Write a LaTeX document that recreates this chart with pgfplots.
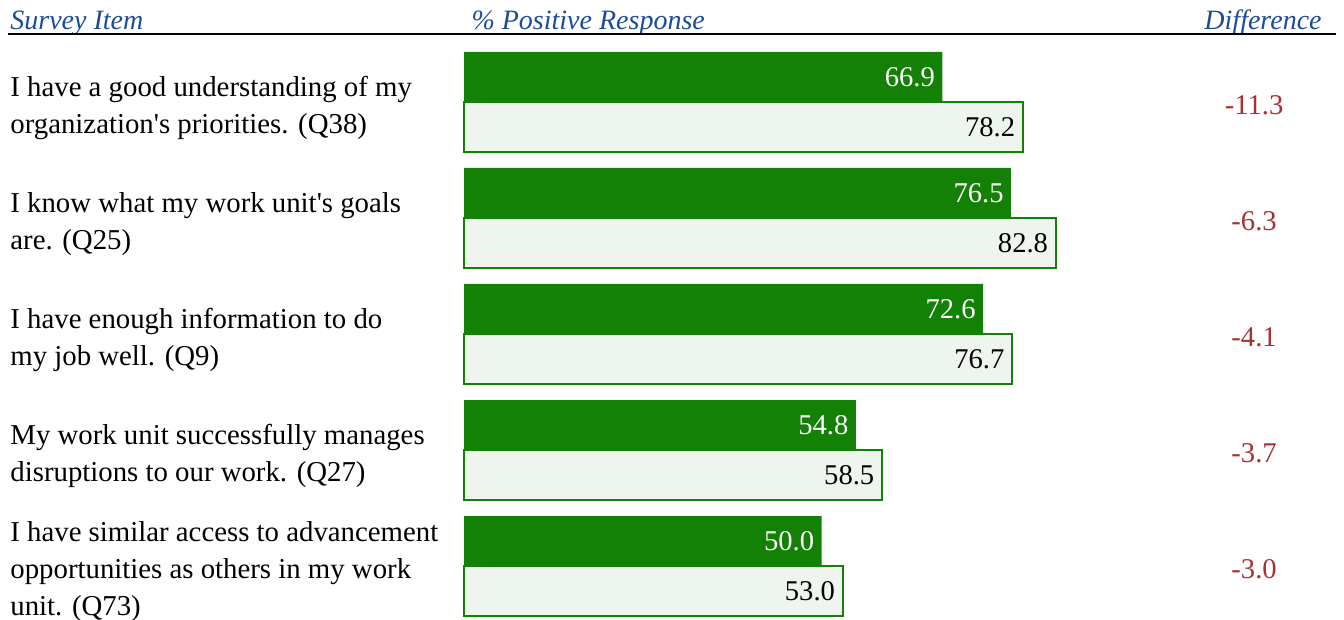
\documentclass[border=0pt]{standalone}
\usepackage{pgfplots}
\pgfplotsset{compat=1.18}
\usepackage{fontspec}
\setmainfont{Liberation Serif}
\definecolor{dkgreen}{RGB}{19,128,6}
\definecolor{ltfill}{RGB}{238,245,238}
\definecolor{hdrblue}{RGB}{28,76,152}
\definecolor{diffred}{RGB}{168,48,48}
\newcommand{\q}{\textquotesingle}
\begin{document}
\fontsize{14}{17.5}\selectfont
\begin{tikzpicture}
\begin{axis}[
  name=ax,
  scale only axis,
  width=672pt, height=310pt,
  xmin=-64.9, xmax=123.08,
  ymin=0, ymax=620,
  y dir=reverse,
  hide axis,
  clip=false,
  /pgf/number format/assume math mode=true,
]
% dark bars (current)
\addplot[xbar, bar shift=0pt, bar width=50, fill=dkgreen, draw=none,
  point meta=x,
  nodes near coords={\pgfmathprintnumber[fixed,fixed zerofill,precision=1]{\pgfplotspointmeta}},
  every node near coord/.append style={anchor=east, inner sep=0pt, xshift=-3.5pt, text=white, font=\fontsize{14.3}{17}\selectfont}]
  coordinates {(66.9,77) (76.5,193) (72.6,309) (54.8,425) (50.0,541)};
% light bars (comparison)
\addplot[xbar, bar shift=0pt, bar width=50, fill=ltfill, draw=dkgreen, line width=1pt,
  point meta=x,
  nodes near coords={\pgfmathprintnumber[fixed,fixed zerofill,precision=1]{\pgfplotspointmeta}},
  every node near coord/.append style={anchor=east, inner sep=0pt, xshift=-3.5pt, text=black, font=\fontsize{14.3}{17}\selectfont}]
  coordinates {(78.2,127) (82.8,243) (76.7,359) (58.5,475) (53.0,591)};
% differences
\addplot[draw=none, mark=none, point meta=explicit symbolic,
  nodes near coords={\pgfplotspointmeta},
  every node near coord/.append style={anchor=center, inner sep=0pt, text=diffred, font=\fontsize{14.3}{17}\selectfont}]
  coordinates {(110.5,105) [-11.3] (110.5,221) [-6.3] (110.5,337) [-4.1] (110.5,453) [-3.7] (110.5,569) [-3.0]};
% left labels
\tikzset{lbl/.style={anchor=west, align=left, inner sep=0pt, font=\fontsize{14.4}{18.5}\selectfont}}
\node[lbl] at (axis cs:-63.5,108) {I have a good understanding of my\\organization\q s priorities. (Q38)};
\node[lbl] at (axis cs:-63.5,224) {I know what my work unit\q s goals\\are. (Q25)};
\node[lbl] at (axis cs:-63.5,340) {I have enough information to do\\my job well. (Q9)};
\node[lbl] at (axis cs:-63.5,456) {My work unit successfully manages\\disruptions to our work. (Q27)};
\node[lbl] at (axis cs:-63.5,572) {I have similar access to advancement\\opportunities as others in my work\\unit. (Q73)};
% header
\node[anchor=base west, inner sep=0pt, text=hdrblue, font=\itshape] (h1) at (axis cs:-63.5,30) {Survey Item};
\node[anchor=base west, inner sep=0pt, text=hdrblue, font=\itshape] (h2) at (axis cs:1.0,30) {\% Positive Response};
\node[anchor=base east, inner sep=0pt, text=hdrblue, font=\itshape] (h3) at (axis cs:120.0,30) {Difference};
\draw[hdrblue, line width=0.6pt] ([yshift=-1.6pt]h1.base west) -- ([yshift=-1.6pt]h1.base east);
\draw[hdrblue, line width=0.6pt] ([yshift=-1.6pt]h2.base west) -- ([yshift=-1.6pt]h2.base east);
\draw[hdrblue, line width=0.6pt] ([yshift=-1.6pt]h3.base west) -- ([yshift=-1.6pt]h3.base east);
\draw[black, line width=1pt] (axis cs:-63.8,34.5) -- (axis cs:121.9,34.5);
\end{axis}
\pgfresetboundingbox
\path (ax.south west) rectangle (ax.north east);
\end{tikzpicture}
\end{document}
